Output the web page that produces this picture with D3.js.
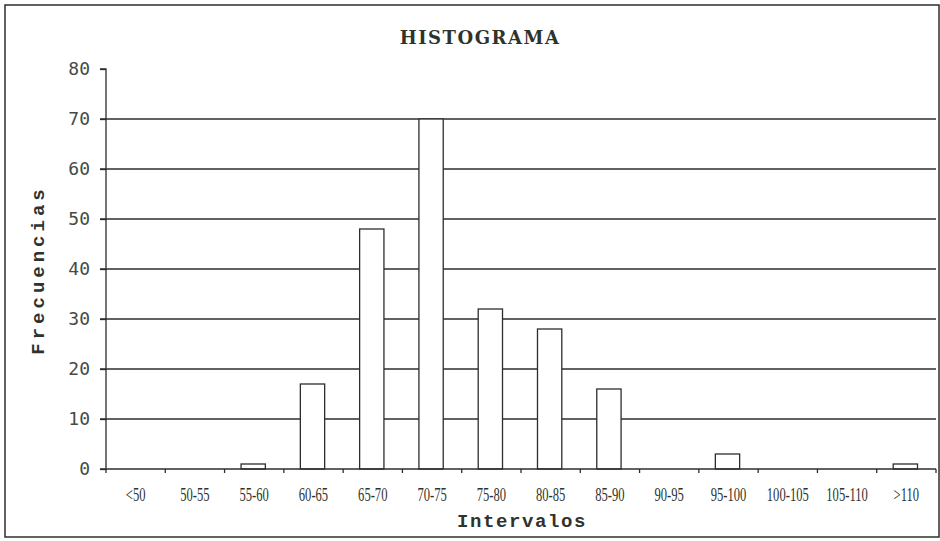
<!DOCTYPE html>
<html>
<head>
<meta charset="utf-8">
<script src="https://cdn.jsdelivr.net/npm/d3@7"></script>
<style>
  body { margin: 0; background: #fff; }
</style>
</head>
<body>
<script>
  // chart data
  var intervalos = ["<50", "50-55", "55-60", "60-65", "65-70", "70-75", "75-80",
                    "80-85", "85-90", "90-95", "95-100", "100-105", "105-110", ">110"];
  var frecuencias = [0, 0, 1, 17, 48, 70, 32, 28, 16, 0, 3, 0, 0, 1];
  var yTicks = [0, 10, 20, 30, 40, 50, 60, 70, 80];

  var W = 940, H = 541;
  var margin = { top: 69, right: 4, bottom: 72, left: 106 };
  var width = W - margin.left - margin.right;
  var height = H - margin.top - margin.bottom;
  var ink = "#2b2f2b";

  var svg = d3.select("body").append("svg")
    .attr("width", W)
    .attr("height", H);

  // outer frame
  svg.append("rect")
    .attr("x", 5).attr("y", 5)
    .attr("width", W - 6).attr("height", H - 9)
    .attr("fill", "none").attr("stroke", ink).attr("stroke-width", 1.5);

  var g = svg.append("g")
    .attr("transform", "translate(" + margin.left + "," + margin.top + ")");

  var x = d3.scaleBand().domain(intervalos).range([0, width]).paddingInner(0).paddingOuter(0);
  var y = d3.scaleLinear().domain([0, 80]).range([height, 0]);

  // grid lines
  g.append("g").selectAll("line")
    .data(yTicks.filter(function (d) { return d > 0 && d < 80; }))
    .join("line")
    .attr("x1", -6).attr("x2", width)
    .attr("y1", function (d) { return y(d); })
    .attr("y2", function (d) { return y(d); })
    .attr("stroke", ink).attr("stroke-width", 1.3);

  // bars
  var barW = x.bandwidth() * 0.41;
  g.append("g").selectAll("rect")
    .data(frecuencias.map(function (v, i) { return { k: intervalos[i], v: v }; })
      .filter(function (d) { return d.v > 0; }))
    .join("rect")
    .attr("x", function (d) { return x(d.k) + x.bandwidth() / 2 - barW / 2 - 1; })
    .attr("width", barW)
    .attr("y", function (d) { return y(d.v); })
    .attr("height", function (d) { return height - y(d.v); })
    .attr("fill", "#fff")
    .attr("stroke", ink).attr("stroke-width", 1.3);

  // y axis
  var yAxis = d3.axisLeft(y).tickValues(yTicks).tickSize(6).tickPadding(10);
  var ya = g.append("g").call(yAxis);
  ya.select(".domain").attr("stroke", ink).attr("stroke-width", 1.3).attr("d", "M-6," + y(80) + "H0V" + y(0));
  ya.selectAll(".tick line").attr("stroke", ink).attr("stroke-width", 1.3);
  ya.selectAll(".tick text")
    .attr("fill", "#454a45")
    .style("font-family", "'DejaVu Sans Mono', monospace")
    .style("font-size", "18px");

  // x axis
  var xb = d3.scaleLinear().domain([0, intervalos.length]).range([0, width]);
  var xa = g.append("g").attr("transform", "translate(0," + height + ")");
  xa.append("line").attr("x1", -6).attr("x2", width)
    .attr("stroke", ink).attr("stroke-width", 1.5);
  xa.selectAll(".tk").data(d3.range(intervalos.length + 1))
    .join("line").attr("class", "tk")
    .attr("x1", function (d) { return xb(d); }).attr("x2", function (d) { return xb(d); })
    .attr("y1", 0).attr("y2", 4)
    .attr("stroke", ink).attr("stroke-width", 1.3);
  xa.selectAll("text").data(intervalos)
    .join("text")
    .attr("x", function (d) { return x(d) + x.bandwidth() / 2; })
    .attr("y", 32)
    .attr("text-anchor", "middle")
    .attr("fill", "#2e332e")
    .style("font-family", "'Liberation Serif', serif")
    .style("font-size", "18px")
    .attr("transform", function (d) {
      var cx = x(d) + x.bandwidth() / 2;
      return "translate(" + cx + ",0) scale(0.7,1) translate(" + (-cx) + ",0)";
    })
    .text(function (d) { return d; });

  // titles
  svg.append("text")
    .attr("x", 480).attr("y", 44)
    .attr("text-anchor", "middle")
    .attr("fill", "#2e332e")
    .style("font-family", "'DejaVu Serif', serif")
    .style("font-weight", "bold")
    .style("font-size", "18px")
    .style("letter-spacing", "1.5px")
    .text("HISTOGRAMA");

  svg.append("text")
    .attr("x", 522).attr("y", 527)
    .attr("text-anchor", "middle")
    .attr("fill", "#2e332e")
    .style("font-family", "'Liberation Mono', monospace")
    .style("font-weight", "bold")
    .style("font-size", "19px")
    .style("letter-spacing", "1.6px")
    .text("Intervalos");

  svg.append("text")
    .attr("transform", "translate(44,270) rotate(-90)")
    .attr("text-anchor", "middle")
    .attr("fill", "#2e332e")
    .style("font-family", "'Liberation Mono', monospace")
    .style("font-weight", "bold")
    .style("font-size", "19px")
    .style("letter-spacing", "4px")
    .text("Frecuencias");
</script>
</body>
</html>
